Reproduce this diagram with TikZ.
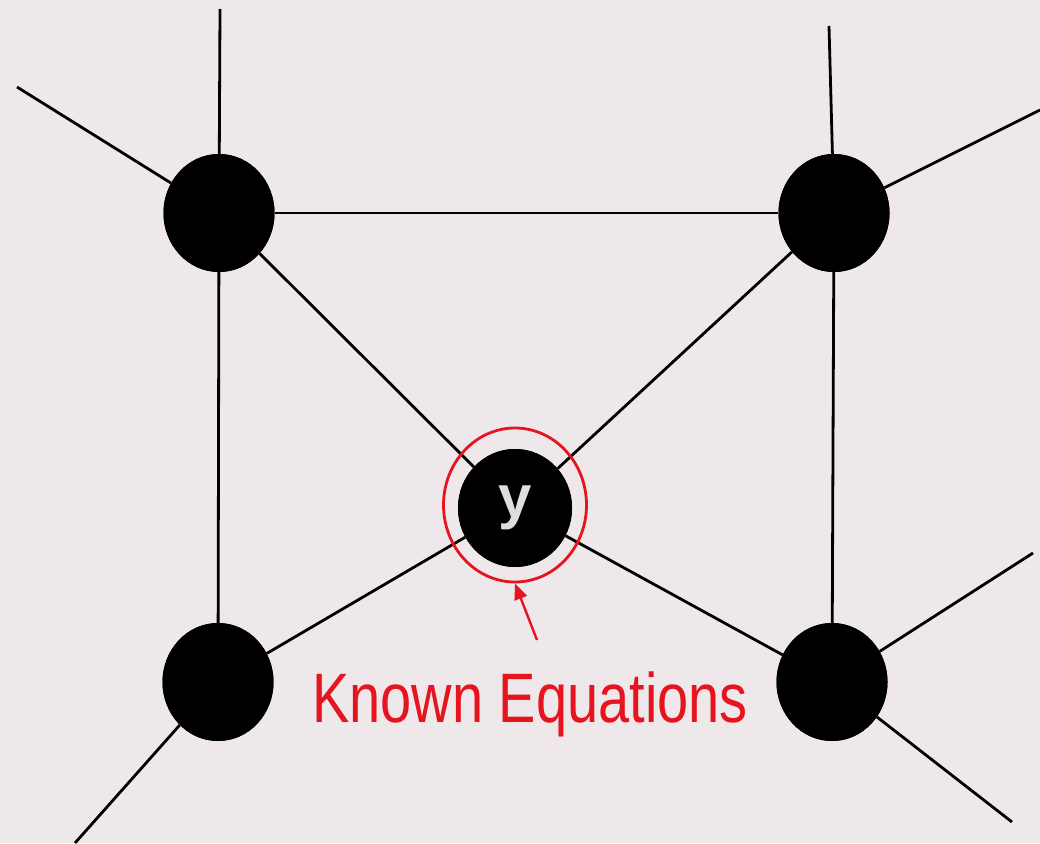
\documentclass[tikz,border=0pt]{standalone}
\usepackage{fontspec}
\setmainfont{Liberation Sans}
\usetikzlibrary{shapes.geometric,arrows.meta}
\definecolor{bg}{HTML}{EEE8EA}
\definecolor{lred}{HTML}{E5141E}
\tikzset{
  vertex/.style={ellipse,fill=black,draw=none,inner sep=0pt,minimum width=111pt,minimum height=118pt},
  edge/.style={line width=2.8pt,black},
  ring/.style={draw=lred,line width=2.8pt},
}
\begin{document}
\begin{tikzpicture}[x=1pt,y=-1pt]
\fill[bg] (0,0) rectangle (1040,843);
\useasboundingbox (0,0) rectangle (1040,843);
% free ends
\coordinate (tlu) at (220,9);
\coordinate (tll) at (17,87);
\coordinate (tru) at (829,26);
\coordinate (trr) at (1040,110);
\coordinate (bll) at (75,843);
\coordinate (brr) at (1033,553);
\coordinate (brd) at (1012,822);
\coordinate (atail) at (537,640);
% vertices
\node[vertex] (TL) at (219,213) {};
\node[vertex] (TR) at (834,213) {};
\node[vertex] (BL) at (218,682) {};
\node[vertex] (BR) at (832,682) {};
\node[vertex,minimum width=114pt,minimum height=118pt] (C) at (515,508) {};
% edges
\begin{scope}[edge]
\draw (tlu) -- (TL);
\draw (tll) -- (TL);
\draw (TL) -- (TR);
\draw (TL) -- (BL);
\draw (TL) -- (C);
\draw (tru) -- (TR);
\draw (trr) -- (TR);
\draw (TR) -- (BR);
\draw (TR) -- (C);
\draw (C) -- (BL);
\draw (C) -- (BR);
\draw (BL) -- (bll);
\draw (BR) -- (brr);
\draw (BR) -- (brd);
\end{scope}
% redraw vertices on top
\node[vertex] at (TL) {};
\node[vertex] at (TR) {};
\node[vertex] at (BL) {};
\node[vertex] at (BR) {};
\node[vertex,minimum width=114pt,minimum height=118pt,text=black!13,font=\fontsize{60}{60}\selectfont\bfseries] (Cy) at (C) {y};
% red ring
\node[ellipse,ring,minimum width=143pt,minimum height=154pt,inner sep=0pt] (R) at (515,505) {};
% arrow
\draw[lred,line width=2.4pt,-{Triangle[length=16pt,width=13pt]}] (atail) -- (R.south);
% label
\node[text=lred,anchor=base,inner sep=0pt,font=\fontsize{70}{70}\selectfont] (K) at (530,722) {\scalebox{0.8}[1]{Known Equations}};
\end{tikzpicture}
\end{document}
